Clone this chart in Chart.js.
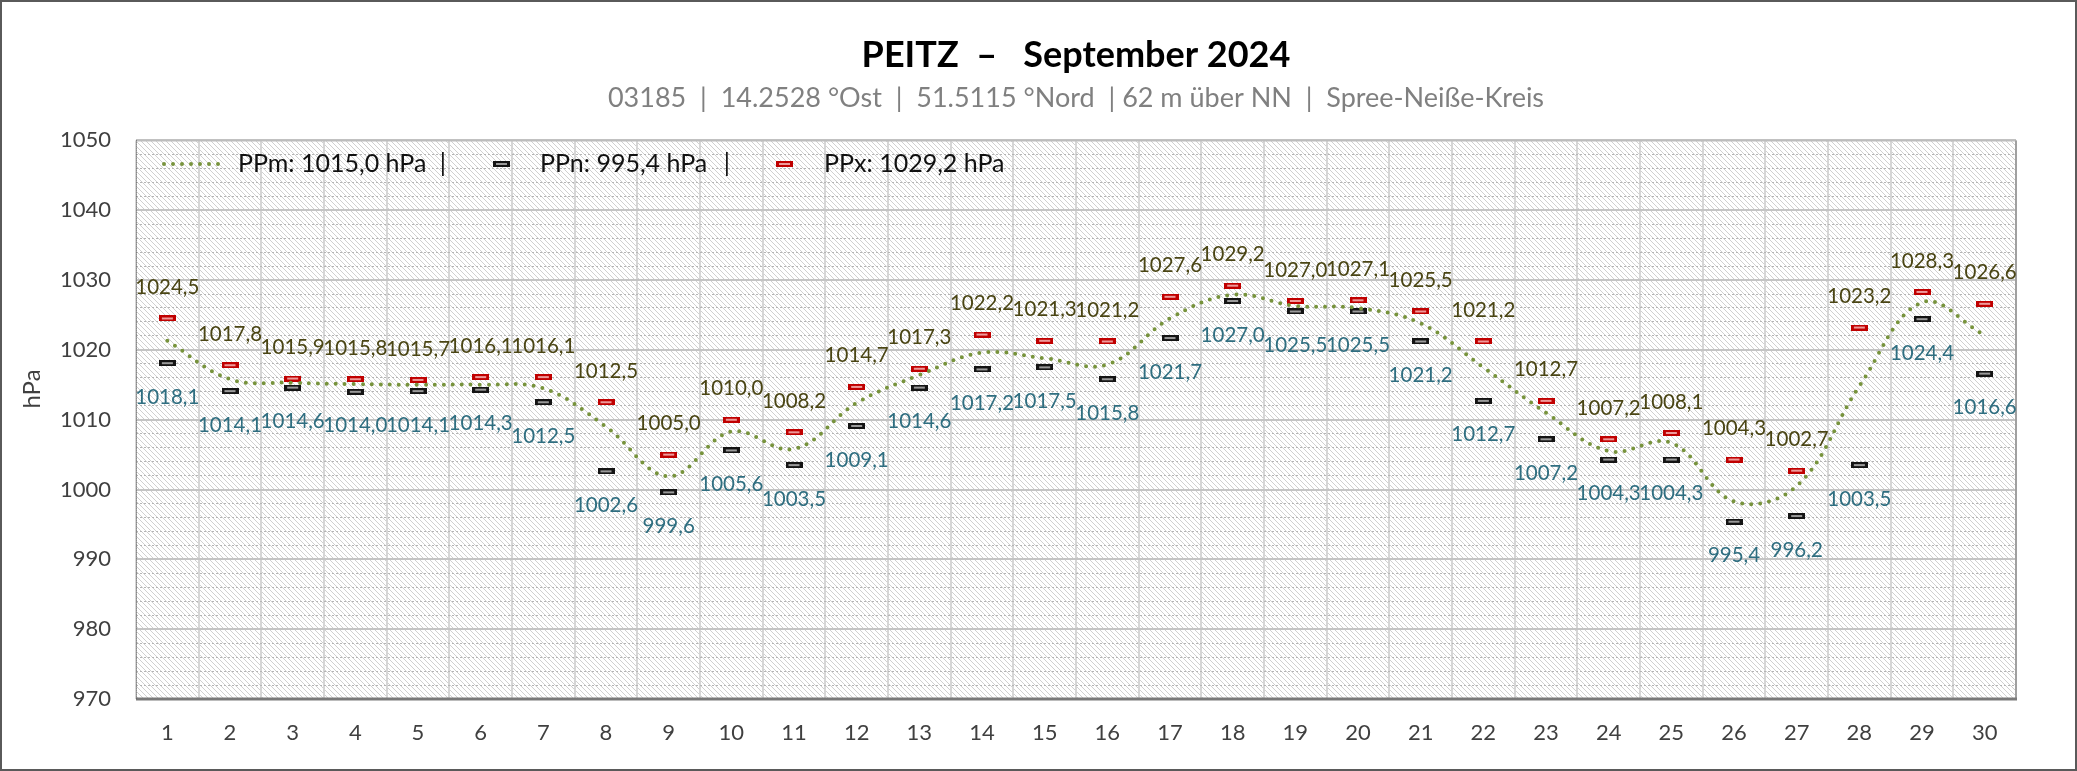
<!DOCTYPE html>
<html><head><meta charset="utf-8">
<script src="https://cdn.jsdelivr.net/npm/chart.js@4.4.1/dist/chart.umd.min.js"></script>
<style>html,body{margin:0;padding:0;background:#fff;overflow:hidden}#wrap{width:2077px;height:771px;position:relative}</style>
</head><body><div id="wrap"><canvas id="c"></canvas></div>
<script>
const days = ['1','2','3','4','5','6','7','8','9','10','11','12','13','14','15','16','17','18','19','20','21','22','23','24','25','26','27','28','29','30'];
const ppMean = [1021.3,1015.8,1015.3,1015.1,1015.0,1015.0,1014.5,1009.0,1001.9,1008.3,1005.8,1012.4,1016.4,1019.6,1018.8,1017.9,1024.5,1027.9,1026.3,1026.0,1023.8,1017.5,1011.0,1005.5,1006.7,998.3,1000.5,1014.8,1026.8,1022.1];
const ppMin = [1018.1,1014.1,1014.6,1014.0,1014.1,1014.3,1012.5,1002.6,999.6,1005.6,1003.5,1009.1,1014.6,1017.2,1017.5,1015.8,1021.7,1027.0,1025.5,1025.5,1021.2,1012.7,1007.2,1004.3,1004.3,995.4,996.2,1003.5,1024.4,1016.6];
const ppMax = [1024.5,1017.8,1015.9,1015.8,1015.7,1016.1,1016.1,1012.5,1005.0,1010.0,1008.2,1014.7,1017.3,1022.2,1021.3,1021.2,1027.6,1029.2,1027.0,1027.1,1025.5,1021.2,1012.7,1007.2,1008.1,1004.3,1002.7,1023.2,1028.3,1026.6];
const yMin = 970, yMax = 1050, yMajor = 10, yMinor = 2;
const legendLabels = ['PPm: 1015,0 hPa', 'PPn: 995,4 hPa', 'PPx: 1029,2 hPa'];
const legendSep = '|';
const titleText = 'PEITZ  –   September 2024';
const subtitleText = '03185  |  14.2528 °Ost  |  51.5115 °Nord  | 62 m über NN  |  Spree-Neiße-Kreis';
const yTitle = 'hPa';

const FONT = 'Lato';
const fmt = v => v.toFixed(1).replace('.', ',');

function makeMarker(outer, inner) {
  const c = document.createElement('canvas');
  c.width = 17; c.height = 6;
  const g = c.getContext('2d');
  g.fillStyle = outer; g.fillRect(0, 0, 17, 6);
  g.fillStyle = inner; g.fillRect(3, 2, 11, 2);
  return c;
}
const redMarker = makeMarker('#c00000', '#ee9a9a');
const blackMarker = makeMarker('#141414', '#9a9a9a');

function makeHatch() {
  const s = 5;
  const c = document.createElement('canvas');
  c.width = s; c.height = s;
  const g = c.getContext('2d');
  g.fillStyle = '#ffffff'; g.fillRect(0, 0, s, s);
  g.fillStyle = '#d0d0d0';
  for (let i = 0; i < s; i++) g.fillRect(i, i, 1, 1);
  return c;
}
const hatch = makeHatch();

const bgPlugin = {
  id: 'bg',
  beforeDraw(chart) {
    const {ctx, chartArea: a} = chart;
    ctx.save();
    ctx.fillStyle = '#ffffff';
    ctx.fillRect(0, 0, chart.width, chart.height);
    ctx.fillStyle = ctx.createPattern(hatch, 'repeat');
    ctx.fillRect(a.left, a.top, a.right - a.left, a.bottom - a.top);
    ctx.restore();
  },
  beforeDatasetsDraw(chart) {
    const {ctx, chartArea: a} = chart;
    ctx.save();
    ctx.strokeStyle = '#bdbdbd'; ctx.lineWidth = 2;
    ctx.beginPath(); ctx.moveTo(a.left, a.top); ctx.lineTo(a.right, a.top); ctx.stroke();
    ctx.strokeStyle = '#a0a0a0';
    ctx.beginPath(); ctx.moveTo(a.right, a.top); ctx.lineTo(a.right, a.bottom); ctx.stroke();
    ctx.strokeStyle = '#7a7a7a'; ctx.lineWidth = 3;
    ctx.beginPath(); ctx.moveTo(a.left, a.bottom); ctx.lineTo(a.right + 1, a.bottom); ctx.stroke();
    ctx.strokeStyle = '#555'; ctx.lineWidth = 1; ctx.setLineDash([1, 1]);
    ctx.beginPath(); ctx.moveTo(a.left + 0.5, a.top); ctx.lineTo(a.left + 0.5, a.bottom); ctx.stroke();
    ctx.restore();
  }
};

const labelPlugin = {
  id: 'labels',
  afterDatasetsDraw(chart) {
    const ctx = chart.ctx;
    ctx.save();
    ctx.font = '20.5px ' + FONT;
    ctx.textAlign = 'center'; ctx.textBaseline = 'middle';
    chart.getDatasetMeta(2).data.forEach((pt, i) => {
      ctx.fillStyle = '#4a4514';
      ctx.fillText(fmt(ppMax[i]), pt.x, pt.y - 31);
    });
    chart.getDatasetMeta(1).data.forEach((pt, i) => {
      ctx.fillStyle = '#2f6e80';
      ctx.fillText(fmt(ppMin[i]), pt.x, pt.y + 34);
    });
    ctx.restore();
  },
  afterDraw(chart) {
    const ctx = chart.ctx;
    ctx.save();
    // legend
    const ly = 164;
    ctx.strokeStyle = '#77933c'; ctx.lineWidth = 4; ctx.lineCap = 'round'; ctx.setLineDash([0, 9]);
    ctx.beginPath(); ctx.moveTo(164, ly); ctx.lineTo(226, ly); ctx.stroke();
    ctx.setLineDash([]);
    ctx.drawImage(blackMarker, 493, ly - 3);
    ctx.drawImage(redMarker, 776, ly - 3);
    ctx.font = '25px ' + FONT; ctx.fillStyle = '#111'; ctx.textBaseline = 'middle'; ctx.textAlign = 'left';
    ctx.fillText(legendLabels[0], 238, ly);
    ctx.fillText(legendLabels[1], 540, ly);
    ctx.fillText(legendLabels[2], 824, ly);
    ctx.textAlign = 'center';
    ctx.fillText(legendSep, 443, ly);
    ctx.fillText(legendSep, 727, ly);
    // outer border
    ctx.strokeStyle = '#5a5a5a'; ctx.lineWidth = 2;
    ctx.strokeRect(1, 1, chart.width - 2, chart.height - 2);
    ctx.restore();
  }
};

new Chart(document.getElementById('c'), {
  type: 'line',
  data: {
    labels: days,
    datasets: [
      { label: legendLabels[0], data: ppMean, borderColor: '#77933c', borderWidth: 4, borderDash: [0, 9],
        borderCapStyle: 'round', pointRadius: 0, tension: 0.38, fill: false },
      { label: legendLabels[1], data: ppMin, showLine: false, pointStyle: blackMarker, pointRadius: 8 },
      { label: legendLabels[2], data: ppMax, showLine: false, pointStyle: redMarker, pointRadius: 8 }
    ]
  },
  options: {
    responsive: true, maintainAspectRatio: false, animation: false, devicePixelRatio: 1,
    layout: { padding: { top: 0, left: 0, right: 61, bottom: 0 } },
    plugins: {
      legend: { display: false },
      tooltip: { enabled: false },
      title: { display: true, text: titleText, fullSize: false, color: '#000',
        font: { family: FONT, size: 36, weight: 'bold', lineHeight: 1.2 }, padding: { top: 34, bottom: 0 } },
      subtitle: { display: true, text: subtitleText, fullSize: false, color: '#808080',
        font: { family: FONT, size: 27, lineHeight: 1.2 }, padding: { top: 5, bottom: 25.8 } }
    },
    scales: {
      x: {
        offset: true,
        grid: { offset: true, color: '#d6d6d6', lineWidth: 2, drawTicks: false },
        border: { display: false },
        ticks: { color: '#404040', font: { family: FONT, size: 22 }, padding: 21, maxRotation: 0, autoSkip: false },
        afterFit(s) { s.height = 72; }
      },
      y: {
        min: yMin, max: yMax,
        grid: {
          drawTicks: false,
          color: c => (c.tick && c.tick.value % yMajor === 0) ? '#c4c4c4' : '#b5b5b5',
          lineWidth: c => (c.tick && c.tick.value % yMajor === 0) ? 2 : 1
        },
        border: { display: false, dash: c => (c.tick && c.tick.value % yMajor !== 0) ? [2, 2] : [] },
        ticks: { stepSize: yMinor, autoSkip: false, color: '#404040', padding: 25,
          font: { family: FONT, size: 22 },
          callback: v => (v % yMajor === 0 ? String(v) : '') },
        title: { display: true, text: '          ' + yTitle, color: '#404040', font: { family: FONT, size: 24 }, padding: { top: 18, bottom: 0 } },
        afterFit(s) { s.width = 136; }
      }
    }
  },
  plugins: [bgPlugin, labelPlugin]
});
</script></body></html>
